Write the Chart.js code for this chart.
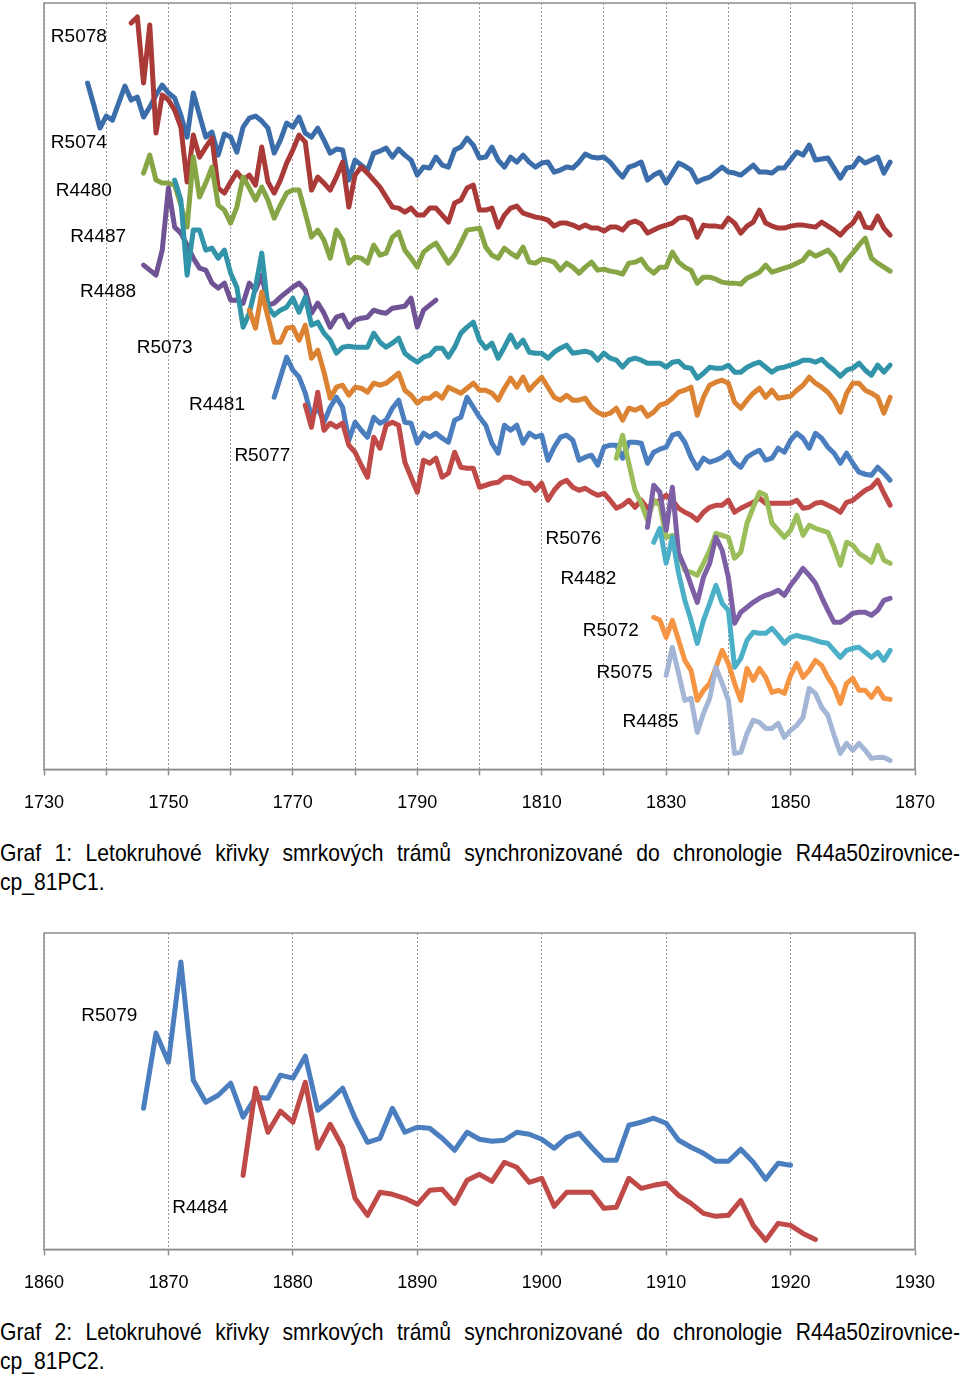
<!DOCTYPE html>
<html>
<head>
<meta charset="utf-8">
<script src="https://cdn.jsdelivr.net/npm/chart.js@4.4.0/dist/chart.umd.min.js"></script>
<style>
  html, body { margin: 0; padding: 0; background: #fff; }
  body { width: 960px; height: 1379px; position: relative; overflow: hidden; }
  canvas { position: absolute; left: 0; }
  #chart1 { top: 0; }
  #chart2 { top: 925px; }
  .caption {
    position: absolute; left: 0; width: 1091px; color: #000;
    font-family: "Liberation Sans", Arial, sans-serif;
    font-size: 24px; line-height: 29px;
    transform: scaleX(0.88); transform-origin: 0 0;
  }
  .caption .full { text-align: justify; text-align-last: justify; white-space: nowrap; }
  #cap1 { top: 838px; }
  #cap2 { top: 1317px; }
</style>
</head>
<body>
<canvas id="chart1" width="960" height="831"></canvas>
<div class="caption" id="cap1">
  <div class="full">Graf 1: Letokruhové křivky smrkových trámů synchronizované do chronologie R44a50zirovnice-</div>
  <div>cp_81PC1.</div>
</div>
<canvas id="chart2" width="960" height="386"></canvas>
<div class="caption" id="cap2">
  <div class="full">Graf 2: Letokruhové křivky smrkových trámů synchronizované do chronologie R44a50zirovnice-</div>
  <div>cp_81PC2.</div>
</div>
<script>
// --- Graf 1: ring-width curves (relative index) ---
const names1 = ['R5078', 'R5074', 'R4480', 'R4487', 'R4488', 'R5073', 'R4481',
                'R5077', 'R5076', 'R4482', 'R5072', 'R5075', 'R4485'];
const startYears1 = [1737, 1744, 1746, 1746, 1751, 1763, 1767, 1772, 1822, 1827, 1828, 1828, 1830];

const r5078 = [686, 664, 641, 653, 649, 666, 683, 669, 672, 652,
               662, 674, 684, 676, 671, 654, 632, 676, 654, 632,
               637, 614, 635, 632, 617, 642, 651, 653, 648, 641,
               616, 629, 646, 642, 652, 636, 632, 641, 629, 616,
               620, 619, 589, 609, 604, 599, 616, 618, 621, 612,
               620, 614, 609, 594, 602, 601, 612, 604, 602, 619,
               622, 631, 624, 611, 612, 622, 609, 602, 612, 607,
               614, 607, 602, 606, 607, 597, 599, 602, 601, 607,
               615, 612, 611, 612, 607, 599, 592, 602, 604, 607,
               589, 594, 597, 586, 596, 606, 603, 599, 587, 590,
               592, 597, 602, 597, 596, 594, 599, 604, 597, 597,
               596, 601, 601, 609, 617, 614, 624, 609, 610, 611,
               601, 591, 601, 602, 611, 606, 609, 612, 596, 607];
const r5074 = [746, 752, 686, 744, 636, 674, 669, 659, 642, 587,
               634, 612, 622, 631, 581, 576, 587, 597, 589, 594,
               584, 622, 587, 576, 589, 606, 619, 634, 627, 579,
               592, 586, 579, 592, 607, 562, 594, 602, 596, 589,
               582, 572, 562, 561, 557, 561, 554, 554, 561, 561,
               554, 547, 566, 569, 581, 584, 559, 559, 561, 542,
               554, 561, 563, 556, 554, 552, 551, 549, 543, 546,
               546, 544, 541, 544, 541, 541, 538, 542, 542, 539,
               546, 548, 545, 536, 539, 542, 544, 546, 551, 552,
               549, 532, 544, 543, 543, 542, 551, 546, 536, 543,
               547, 559, 546, 543, 541, 541, 543, 544, 544, 543,
               542, 547, 543, 539, 534, 541, 546, 556, 542, 541,
               553, 541, 534];
const r4480 = [596, 614, 589, 586, 586, 584, 564, 542, 612, 572,
               586, 602, 564, 559, 546, 562, 592, 581, 569, 582,
               569, 551, 564, 576, 579, 579, 556, 532, 539, 529,
               511, 539, 529, 506, 512, 511, 506, 524, 514, 516,
               532, 537, 519, 511, 502, 517, 522, 526, 516, 506,
               514, 526, 539, 540, 541, 522, 514, 511, 521, 516,
               512, 522, 507, 506, 510, 509, 507, 499, 506, 502,
               496, 502, 507, 499, 500, 498, 497, 495, 506, 507,
               510, 501, 496, 502, 502, 517, 507, 502, 499, 486,
               492, 492, 490, 487, 486, 486, 485, 491, 494, 497,
               504, 497, 499, 501, 503, 506, 509, 517, 513, 516,
               519, 512, 499, 509, 516, 524, 531, 511, 506, 502,
               498];
const r4487 = [504, 499, 494, 519, 581, 542, 536, 524, 511, 501,
               499, 486, 481, 486, 469, 469, 466, 486, 479, 494,
               464, 466, 472, 477, 482, 486, 479, 456, 466, 456,
               442, 452, 454, 442, 449, 451, 452, 459, 457, 456,
               461, 462, 463, 471, 442, 459, 464, 469];
const r4488 = [589, 569, 494, 539, 539, 519, 521, 511, 519, 496,
               482, 442, 456, 482, 516, 462, 454, 459, 462, 471,
               457, 472, 444, 447, 436, 429, 416, 422, 423, 422,
               422, 422, 436, 427, 422, 426, 431, 416, 411, 407,
               412, 414, 421, 421, 412, 422, 436, 442, 447, 429,
               421, 426, 411, 422, 434, 422, 429, 417, 416, 416,
               411, 417, 421, 424, 416, 417, 418, 416, 409, 416,
               411, 409, 402, 409, 411, 409, 406, 406, 406, 402,
               407, 408, 402, 401, 391, 396, 402, 401, 401, 404,
               397, 397, 402, 405, 407, 402, 397, 401, 402, 404,
               406, 409, 409, 407, 410, 404, 399, 393, 399, 401,
               406, 399, 394, 404, 397, 404];
const r5073 = [459, 441, 477, 452, 427, 427, 441, 442, 429, 444,
               411, 419, 397, 371, 382, 384, 374, 382, 381, 377,
               386, 384, 386, 391, 396, 379, 374, 366, 371, 371,
               376, 371, 382, 379, 376, 381, 386, 379, 379, 376,
               369, 381, 391, 382, 392, 379, 386, 392, 382, 372,
               369, 374, 369, 369, 371, 362, 357, 354, 356, 361,
               349, 361, 359, 362, 353, 357, 364, 366, 371, 377,
               379, 382, 354, 372, 384, 387, 389, 386, 367, 361,
               369, 376, 381, 372, 379, 371, 372, 373, 379, 384,
               392, 386, 382, 377, 369, 357, 376, 386, 386, 379,
               376, 372, 356, 372];
const r4481 = [372, 392, 412, 399, 392, 376, 352, 362, 347, 362,
               372, 362, 329, 347, 339, 332, 352, 346, 349, 361,
               369, 347, 346, 326, 336, 332, 336, 331, 327, 349,
               352, 372, 362, 352, 344, 326, 316, 344, 339, 344,
               326, 336, 332, 334, 309, 322, 332, 334, 329, 309,
               312, 314, 304, 322, 324, 324, 311, 327, 327, 326,
               306, 317, 320, 322, 334, 336, 327, 312, 301, 311,
               307, 309, 312, 317, 307, 302, 312, 316, 319, 309,
               311, 321, 317, 329, 336, 331, 321, 336, 331, 322,
               316, 306, 316, 306, 297, 295, 294, 302, 296, 289];
const r5077 = [364, 342, 377, 339, 346, 342, 346, 324, 317, 304,
               292, 332, 321, 344, 347, 344, 307, 292, 277, 309,
               306, 311, 292, 296, 317, 302, 301, 301, 282, 284,
               286, 287, 292, 292, 289, 286, 286, 279, 286, 269,
               279, 286, 289, 282, 279, 281, 277, 274, 276, 269,
               261, 264, 269, 262, 269, 261, 266, 269, 274, 269,
               261, 257, 254, 249, 257, 262, 264, 264, 269, 257,
               261, 264, 267, 271, 266, 266, 266, 266, 266, 269,
               261, 262, 266, 267, 264, 261, 257, 267, 269, 274,
               279, 282, 289, 276, 264];
const r5076 = [311, 334, 306, 279, 266, 249, 269, 264, 232, 234,
               216, 199, 197, 194, 206, 219, 236, 234, 232, 211,
               217, 246, 262, 277, 274, 246, 239, 232, 239, 254,
               234, 244, 241, 239, 237, 222, 204, 227, 224, 216,
               212, 207, 224, 209, 206];
const r4482 = [242, 284, 277, 239, 282, 216, 202, 184, 167, 192,
               206, 232, 219, 192, 146, 157, 162, 167, 171, 174,
               176, 179, 174, 184, 192, 201, 194, 186, 172, 159,
               147, 147, 151, 156, 157, 157, 154, 159, 169, 171];
const r5072 = [227, 241, 206, 232, 196, 169, 149, 126, 149, 166,
               184, 166, 159, 102, 111, 129, 137, 136, 136, 141,
               134, 126, 132, 134, 132, 131, 129, 127, 126, 119,
               112, 119, 121, 122, 117, 112, 117, 109, 119];
const r5075 = [152, 149, 132, 149, 129, 109, 99, 69, 79, 86,
               102, 119, 106, 86, 69, 101, 89, 101, 92, 77,
               79, 76, 94, 106, 92, 99, 109, 104, 92, 82,
               66, 86, 91, 79, 79, 72, 81, 71, 70];
const r4485 = [94, 122, 96, 69, 71, 37, 56, 71, 102, 86,
               69, 16, 17, 36, 49, 47, 41, 41, 46, 32,
               39, 44, 52, 81, 76, 62, 54, 34, 16, 26,
               19, 26, 19, 11, 12, 12, 9];
const values1 = [r5078, r5074, r4480, r4487, r4488, r5073, r4481,
                 r5077, r5076, r4482, r5072, r5075, r4485];

// --- Graf 2 ---
const names2 = ['R5079', 'R4484'];
const startYears2 = [1868, 1876];
const r5079 = [141, 216, 187, 287, 169, 147, 154, 166, 132, 152,
               151, 174, 171, 193, 139, 149, 161, 131, 107, 111,
               141, 117, 122, 121, 111, 99, 117, 110, 108, 109,
               117, 115, 110, 101, 112, 116, 102, 89, 89, 124,
               127, 131, 126, 109, 102, 96, 88, 88, 100, 87,
               70, 86, 84];
const r4484 = [74, 161, 117, 138, 127, 167, 101, 125, 102, 51,
               34, 57, 55, 51, 45, 59, 60, 46, 69, 75,
               68, 87, 82, 67, 71, 43, 57, 57, 57, 41,
               42, 71, 61, 64, 66, 54, 46, 36, 33, 34,
               49, 24, 9, 26, 24, 16, 10];
const values2 = [r5079, r4484];

const colors1 = ['#3b6daa', '#aa3a38', '#86a544', '#6f5394', '#3194a9', '#db8233', '#4a7ebf',
                 '#bf4a48', '#9bbe5a', '#7d5fa5', '#4bafc8', '#f59443', '#a4b6d6'];
const colors2 = ['#4a7ebf', '#bf4a48'];

// where the name tags sit (year, index) - left edge, vertical middle
const tags1 = [[1731.1, 732], [1731.1, 626], [1731.9, 578], [1734.2, 532], [1735.8, 477],
               [1744.9, 421], [1753.3, 364], [1760.6, 313], [1810.6, 231], [1813.0, 191],
               [1816.6, 139], [1818.8, 97], [1823.0, 48]];
const tags2 = [[1863.0, 233], [1870.3, 42]];

const plotFrame = {
    id: 'plotFrame',
    beforeDatasetsDraw(chart) {
        const { ctx, chartArea: a } = chart;
        ctx.save();
        ctx.strokeStyle = '#8c8c8c';
        ctx.lineWidth = 1.5;
        ctx.strokeRect(a.left, a.top, a.right - a.left, a.bottom - a.top);
        ctx.restore();
    }
};

const seriesTags = {
    id: 'seriesTags',
    afterDatasetsDraw(chart, args, opts) {
        const { ctx, scales } = chart;
        ctx.save();
        ctx.font = '19px "Liberation Sans", Arial, sans-serif';
        ctx.fillStyle = '#000';
        ctx.textAlign = 'left';
        ctx.textBaseline = 'middle';
        opts.items.forEach(item => {
            ctx.fillText(item.text, scales.x.getPixelForValue(item.x), scales.y.getPixelForValue(item.y));
        });
        ctx.restore();
    }
};

function drawChart(id, names, starts, values, colors, tags, xMin, xMax, labelEvery, yMax, padTop) {
    const datasets = names.map((name, i) => ({
        label: name,
        data: values[i].map((v, k) => ({ x: starts[i] + k, y: v })),
        borderColor: colors[i],
        backgroundColor: colors[i],
        borderWidth: 5,
        borderJoinStyle: 'round',
        borderCapStyle: 'round',
        pointRadius: 0,
        tension: 0,
        fill: false,
        order: -i
    }));

    return new Chart(document.getElementById(id).getContext('2d'), {
        type: 'line',
        data: { datasets: datasets },
        options: {
            responsive: false,
            animation: false,
            devicePixelRatio: 1,
            layout: { padding: { left: 44, right: 45, top: padTop, bottom: 0 } },
            scales: {
                x: {
                    type: 'linear',
                    min: xMin,
                    max: xMax,
                    ticks: {
                        stepSize: 10,
                        autoSkip: false,
                        maxRotation: 0,
                        padding: 17,
                        color: '#000',
                        font: { family: '"Liberation Sans", Arial, sans-serif', size: 18 },
                        callback: v => ((v - xMin) % labelEvery === 0 ? String(v) : '')
                    },
                    grid: {
                        color: '#999',
                        lineWidth: 1,
                        tickLength: 6,
                        tickColor: '#8c8c8c',
                        tickWidth: 1.5
                    },
                    border: { display: true, color: '#8c8c8c', width: 1.5, dash: [2, 2] }
                },
                y: { display: false, min: 0, max: yMax }
            },
            plugins: {
                legend: { display: false },
                tooltip: { enabled: false },
                seriesTags: { items: names.map((n, i) => ({ text: n, x: tags[i][0], y: tags[i][1] })) }
            }
        },
        plugins: [plotFrame, seriesTags]
    });
}

drawChart('chart1', names1, startYears1, values1, colors1, tags1, 1730, 1870, 20, 766, 3);
drawChart('chart2', names2, startYears2, values2, colors2, tags2, 1860, 1930, 10, 316, 8);
</script>
</body>
</html>
